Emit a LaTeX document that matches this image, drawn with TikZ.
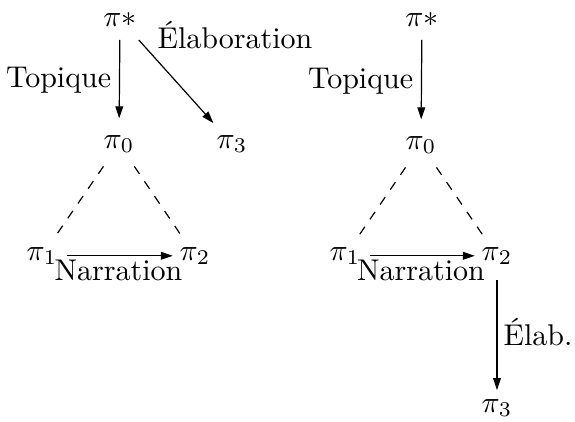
\documentclass[tikz,border=0pt]{standalone}
\usetikzlibrary{arrows.meta,calc}
\begin{document}
\begin{tikzpicture}[x=0.33333pt,y=-0.33333pt,
  pinode/.style={inner sep=0pt,outer sep=0pt,anchor=base},
  arr/.style={-{Triangle[length=4pt,width=2.6pt]}},
  dashline/.style={dashed}]
\useasboundingbox (0,0) rectangle (575,421);
% left diagram
\node[pinode] (ls) at (120,26) {$\pi*$};
\node[pinode] (l0) at (119,148) {$\pi_0$};
\node[pinode] (l3) at (232,148) {$\pi_3$};
\node[pinode] (l1) at (42,260) {$\pi_1$};
\node[pinode] (l2) at (195,260) {$\pi_2$};
\draw[arr,shorten <=4.6pt,shorten >=5.6pt] (ls) -- node[left,inner sep=2.6pt]{Topique} (l0);
\draw[arr,shorten <=6.3pt,shorten >=5.4pt] (ls) -- (l3);
\node[anchor=base west,inner sep=0pt] (lab) at ($(ls.base)+(37,22)$) {Élaboration};
\draw[dashline,shorten <=5.6pt,shorten >=4.8pt] (l0) -- (l1);
\draw[dashline,shorten <=5.6pt,shorten >=4.8pt] (l0) -- (l2);
\draw[arr,shorten <=3.3pt,shorten >=2.3pt] (l1) -- node[below,inner sep=1.3pt]{Narration} (l2);
% right diagram
\node[pinode] (rs) at (422,26) {$\pi*$};
\node[pinode] (r0) at (421,149) {$\pi_0$};
\node[pinode] (r1) at (345,260) {$\pi_1$};
\node[pinode] (r2) at (497,260) {$\pi_2$};
\node[pinode] (r3) at (497,412) {$\pi_3$};
\draw[arr,shorten <=4.6pt,shorten >=5.6pt] (rs) -- node[left,inner sep=2.6pt]{Topique} (r0);
\draw[dashline,shorten <=5.6pt,shorten >=4.8pt] (r0) -- (r1);
\draw[dashline,shorten <=5.6pt,shorten >=4.8pt] (r0) -- (r2);
\draw[arr,shorten <=3.3pt,shorten >=2.3pt] (r1) -- node[below,inner sep=1.3pt]{Narration} (r2);
\draw[arr,shorten <=5.3pt,shorten >=3pt] (r2) -- node[right,inner sep=2pt]{Élab.} (r3);
\end{tikzpicture}
\end{document}
